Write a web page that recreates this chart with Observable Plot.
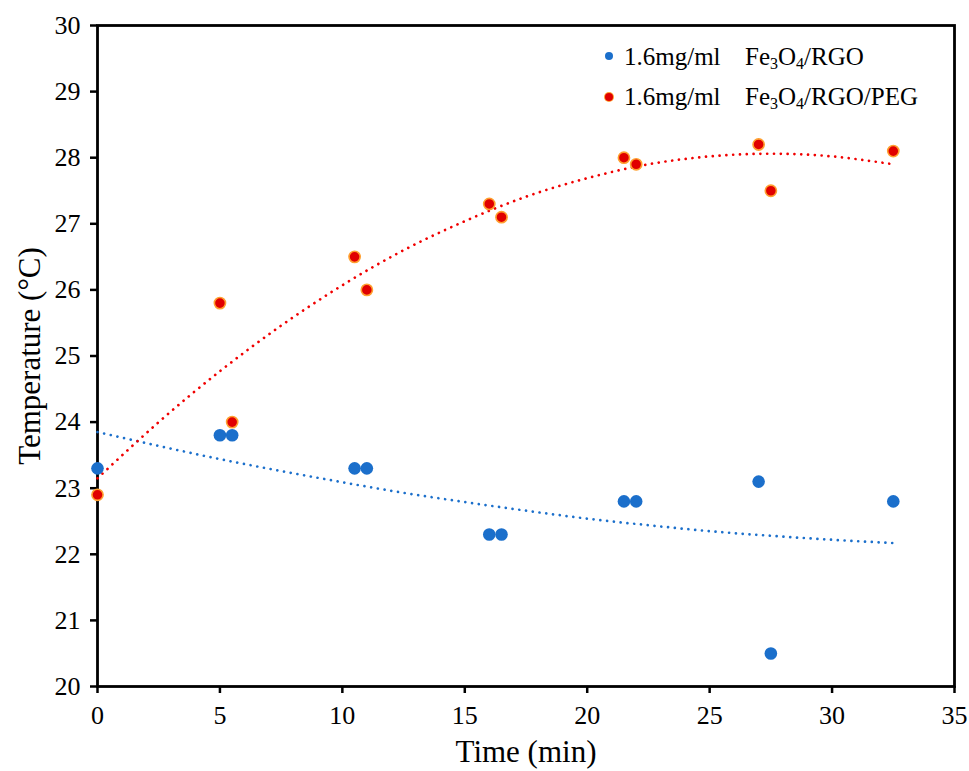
<!DOCTYPE html>
<html>
<head>
<meta charset="utf-8">
<script src="https://cdn.jsdelivr.net/npm/d3@7"></script>
<script src="https://cdn.jsdelivr.net/npm/@observablehq/plot@0.6"></script>
<style>
  body { margin: 0; background: #fff; }
  #wrap { position: relative; width: 969px; height: 771px; }
  #wrap svg text { font-family: "Liberation Serif", serif; }
  .lg { position: absolute; font-family: "Liberation Serif", serif; font-size: 25px; line-height: 25px; color: #000; white-space: nowrap; }
  .lg sub { font-size: 16px; line-height: 0; vertical-align: -4px; }
  .dot { position: absolute; width: 8px; height: 8px; border-radius: 50%; }
</style>
</head>
<body>
<div id="wrap"></div>
<script>
// ---- data ----
const times = [0, 5, 5.5, 10.5, 11, 16, 16.5, 21.5, 22, 27, 27.5, 32.5];
const rgoTemps = [23.3, 23.8, 23.8, 23.3, 23.3, 22.3, 22.3, 22.8, 22.8, 23.1, 20.5, 22.8];
const rgoPegTemps = [22.9, 25.8, 24.0, 26.5, 26.0, 27.3, 27.1, 28.0, 27.9, 28.2, 27.5, 28.1];

// trendline values
const trendTimes = [0, 2.5, 5, 7.5, 10, 12.5, 15, 17.5, 20, 22.5, 25, 27.5, 30, 32.5];
const rgoTrend = [23.85, 23.64, 23.44, 23.26, 23.09, 22.93, 22.79, 22.66, 22.54, 22.44, 22.35, 22.28, 22.22, 22.17];
const rgoPegTrend = [23.15, 24.00, 24.77, 25.46, 26.07, 26.60, 27.04, 27.41, 27.69, 27.90, 28.02, 28.06, 28.02, 27.90];

const xTicks = [0, 5, 10, 15, 20, 25, 30, 35];
const yTicks = [20, 21, 22, 23, 24, 25, 26, 27, 28, 29, 30];
const xLabel = "Time (min)";
const yLabel = "Temperature (°C)";

const blue = "#1b6fcb";
const red = "#e00000";
const redLine = "#f00000";
const orange = "#ffa030";
const serif = "Liberation Serif";

const rgoPts = times.map((t, i) => ({t, v: rgoTemps[i]}));
const pegPts = times.map((t, i) => ({t, v: rgoPegTemps[i]}));
const rgoLine = trendTimes.map((t, i) => ({t, v: rgoTrend[i]}));
const pegLine = trendTimes.map((t, i) => ({t, v: rgoPegTrend[i]}));

const chart = Plot.plot({
  width: 969,
  height: 771,
  marginLeft: 97,
  marginRight: 15,
  marginTop: 25,
  marginBottom: 85,
  x: {domain: [0, 35]},
  y: {domain: [20, 30]},
  style: {fontFamily: serif, fontSize: "25px", color: "#000", background: "#fff", overflow: "visible"},
  marks: [
    Plot.axisX(xTicks, {tickSize: 7, tickPadding: 12, strokeWidth: 2.5, label: null, fontSize: 26, fontFamily: serif, tickFormat: d => String(d)}),
    Plot.axisY(yTicks, {tickSize: 7, tickPadding: 10, strokeWidth: 2.5, label: null, fontSize: 26, fontFamily: serif, tickFormat: d => String(d)}),
    Plot.frame({stroke: "#000", strokeWidth: 2.8}),
    Plot.text([xLabel], {frameAnchor: "bottom", dy: 66, fontSize: 31, fontFamily: serif, lineAnchor: "middle", textAnchor: "middle"}),
    Plot.text([yLabel], {frameAnchor: "left", dx: -67, rotate: -90, fontSize: 31, fontFamily: serif, lineAnchor: "middle", textAnchor: "middle"}),
    Plot.line(rgoLine, {x: "t", y: "v", curve: "natural", stroke: blue, strokeWidth: 2.7, strokeDasharray: "0.01,6.8", strokeLinecap: "round"}),
    Plot.line(pegLine, {x: "t", y: "v", curve: "natural", stroke: redLine, strokeWidth: 2.7, strokeDasharray: "0.01,6.8", strokeLinecap: "round"}),
    Plot.dot(rgoPts, {x: "t", y: "v", r: 6.3, fill: blue, stroke: "none"}),
    Plot.dot(pegPts, {x: "t", y: "v", r: 5.6, fill: red, stroke: orange, strokeWidth: 1.6})
  ]
});
const wrap = document.getElementById("wrap");
wrap.appendChild(chart);

// legend (inside plot area, upper right)
const legendItems = [
  {color: blue, stroke: "none", conc: "1.6mg/ml", html: "Fe<sub>3</sub>O<sub>4</sub>/RGO", top: 44, cy: 56},
  {color: red, stroke: orange, conc: "1.6mg/ml", html: "Fe<sub>3</sub>O<sub>4</sub>/RGO/PEG", top: 84, cy: 97}
];
for (const it of legendItems) {
  const d = document.createElement("div");
  d.className = "dot";
  d.style.left = (609 - 4) + "px";
  d.style.top = (it.cy - 4) + "px";
  d.style.background = it.color;
  if (it.stroke !== "none") { d.style.boxShadow = "0 0 0 1px " + it.stroke; }
  wrap.appendChild(d);
  const a = document.createElement("div");
  a.className = "lg"; a.style.left = "624px"; a.style.top = it.top + "px";
  a.textContent = it.conc;
  wrap.appendChild(a);
  const b = document.createElement("div");
  b.className = "lg"; b.style.left = "745px"; b.style.top = it.top + "px";
  b.innerHTML = it.html;
  wrap.appendChild(b);
}
</script>
</body>
</html>
